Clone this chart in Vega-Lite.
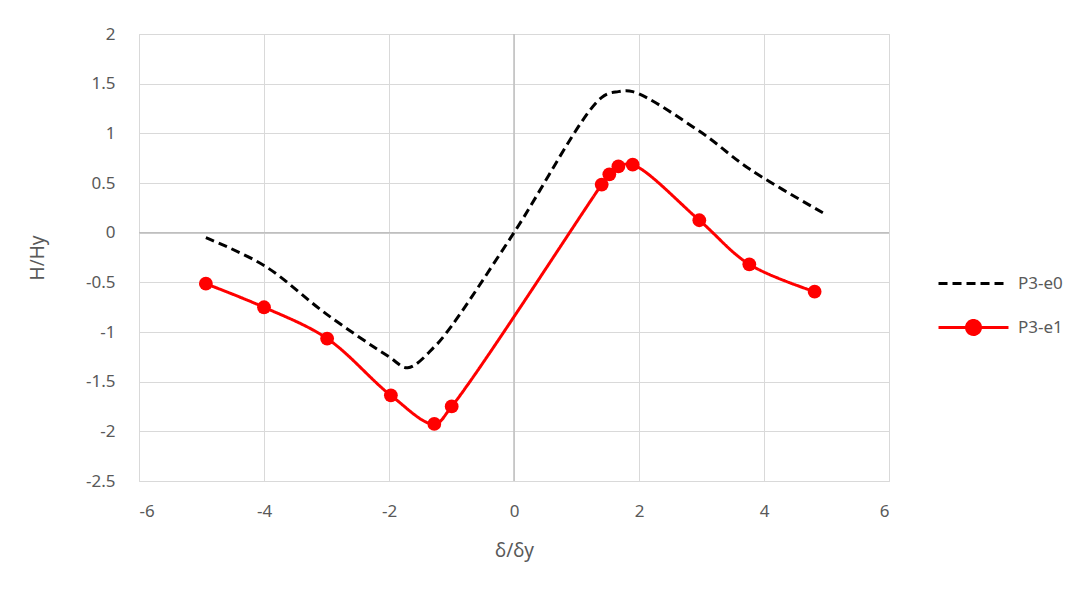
{
  "$schema": "https://vega.github.io/schema/vega-lite/v6.json",
  "width": 750,
  "height": 447,
  "autosize": {"type": "none"},
  "padding": {"left": 139, "top": 34, "right": 199, "bottom": 116},
  "background": "white",
  "config": {
    "view": {"stroke": "#d9d9d9", "strokeWidth": 1},
    "font": "Noto Sans",
    "axis": {
      "titleFontSize": 19, "titleColor": "#595959", "titleFontWeight": "normal",
      "labelFontSize": 17, "labelColor": "#595959",
      "grid": true, "gridColor": "#d9d9d9", "domain": false, "ticks": false
    }
  },
  "data": {
    "values": [
      {"series": "P3-e0", "x": -4.93, "y": -0.05},
      {"series": "P3-e0", "x": -4.0, "y": -0.33},
      {"series": "P3-e0", "x": -3.0, "y": -0.82},
      {"series": "P3-e0", "x": -2.0, "y": -1.25},
      {"series": "P3-e0", "x": -1.7, "y": -1.36},
      {"series": "P3-e0", "x": -1.275, "y": -1.15},
      {"series": "P3-e0", "x": -1.0, "y": -0.94},
      {"series": "P3-e0", "x": 0.0, "y": 0.0},
      {"series": "P3-e0", "x": 1.4, "y": 1.36},
      {"series": "P3-e0", "x": 1.67, "y": 1.42},
      {"series": "P3-e0", "x": 1.9, "y": 1.42},
      {"series": "P3-e0", "x": 2.97, "y": 1.02},
      {"series": "P3-e0", "x": 3.77, "y": 0.64},
      {"series": "P3-e0", "x": 5.0, "y": 0.18},
      {"series": "P3-e1", "x": -4.93, "y": -0.514},
      {"series": "P3-e1", "x": -4.0, "y": -0.751},
      {"series": "P3-e1", "x": -2.99, "y": -1.066},
      {"series": "P3-e1", "x": -1.97, "y": -1.638},
      {"series": "P3-e1", "x": -1.275, "y": -1.926},
      {"series": "P3-e1", "x": -0.997, "y": -1.749},
      {"series": "P3-e1", "x": 1.403, "y": 0.484},
      {"series": "P3-e1", "x": 1.525, "y": 0.587},
      {"series": "P3-e1", "x": 1.67, "y": 0.667},
      {"series": "P3-e1", "x": 1.899, "y": 0.684},
      {"series": "P3-e1", "x": 2.965, "y": 0.125},
      {"series": "P3-e1", "x": 3.765, "y": -0.319},
      {"series": "P3-e1", "x": 4.81, "y": -0.594}
    ]
  },
  "layer": [
    {
      "data": {"values": [{}]},
      "mark": {"type": "rule", "color": "#bfbfbf", "strokeWidth": 1.5},
      "encoding": {
        "x": {
          "datum": 0, "type": "quantitative",
          "scale": {"domain": [-6, 6], "nice": false, "zero": false},
          "axis": {"title": "δ/δy", "titlePadding": 22, "values": [-6, -4, -2, 0, 2, 4, 6], "labelExpr": "'' + datum.value", "labelPadding": 22}
        }
      }
    },
    {
      "data": {"values": [{}]},
      "mark": {"type": "rule", "color": "#bfbfbf", "strokeWidth": 1.5},
      "encoding": {
        "y": {
          "datum": 0, "type": "quantitative",
          "scale": {"domain": [-2.5, 2], "nice": false, "zero": false},
          "axis": {"title": "H/Hy", "titlePadding": 38, "values": [-2.5, -2, -1.5, -1, -0.5, 0, 0.5, 1, 1.5, 2], "labelExpr": "'' + datum.value", "labelPadding": 24}
        }
      }
    },
    {
      "mark": {"type": "line", "interpolate": "catmull-rom", "strokeWidth": 3},
      "encoding": {
        "x": {
          "field": "x", "type": "quantitative",
          "scale": {"domain": [-6, 6], "nice": false, "zero": false},
          "axis": {"title": "δ/δy", "titlePadding": 22, "values": [-6, -4, -2, 0, 2, 4, 6], "labelExpr": "'' + datum.value", "labelPadding": 22}
        },
        "y": {
          "field": "y", "type": "quantitative",
          "scale": {"domain": [-2.5, 2], "nice": false, "zero": false},
          "axis": {"title": "H/Hy", "titlePadding": 38, "values": [-2.5, -2, -1.5, -1, -0.5, 0, 0.5, 1, 1.5, 2], "labelExpr": "'' + datum.value", "labelPadding": 24}
        },
        "color": {
          "field": "series", "type": "nominal",
          "scale": {"domain": ["P3-e0", "P3-e1"], "range": ["#000000", "#ff0000"]},
          "legend": {
            "title": null, "orient": "none", "legendX": 821, "legendY": 236, "padding": 0,
            "symbolType": "M-3,0L3,0", "symbolSize": 544, "symbolStrokeWidth": 3,
            "labelFontSize": 17, "labelColor": "#595959", "labelOffset": 31, "rowPadding": 22,
            "encode": {
              "symbols": {
                "update": {
                  "shape": {"signal": "datum.value === 'P3-e1' ? 'M-3,0L3,0M-0.6,0A0.6,0.6 0 1 1 0.6,0A0.6,0.6 0 1 1 -0.6,0Z' : 'M-3,0L3,0'"},
                  "fill": {"signal": "datum.value === 'P3-e1' ? '#ff0000' : 'transparent'"}
                }
              }
            }
          }
        },
        "strokeDash": {
          "field": "series", "type": "nominal",
          "scale": {"domain": ["P3-e0", "P3-e1"], "range": [[9, 5], [1, 0]]}
        }
      }
    },
    {
      "transform": [{"filter": "datum.series === 'P3-e1'"}],
      "mark": {"type": "point", "filled": true, "size": 190, "color": "#ff0000", "opacity": 1},
      "encoding": {
        "x": {"field": "x", "type": "quantitative"},
        "y": {"field": "y", "type": "quantitative"}
      }
    }
  ]
}
